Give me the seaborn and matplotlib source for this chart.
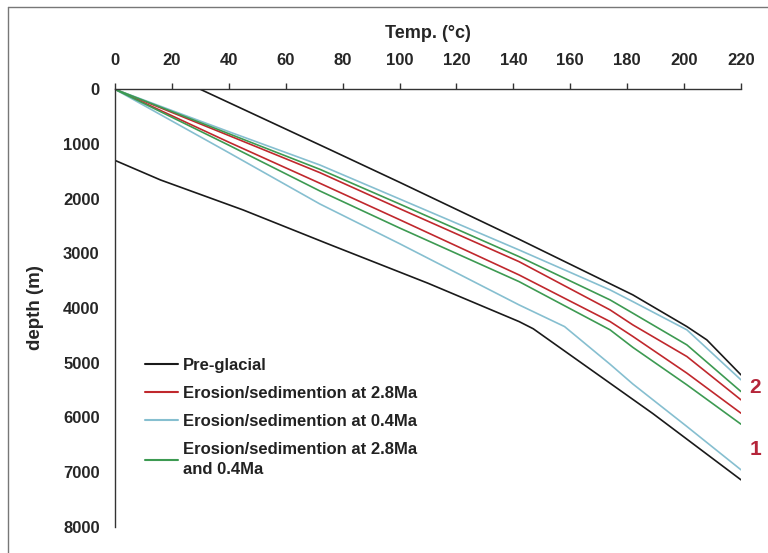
import pandas as pd
import seaborn as sns
import matplotlib.pyplot as plt
from matplotlib.lines import Line2D

# temperatures (°C) used for the model curves
temps = [0, 40, 72, 100, 142, 158, 174, 182, 201, 220]

# case 2 (upper bundle)
red_2 = [0, 845, 1524, 2182, 3152, 3594, 4035, 4309, 4888, 5680]
blue_2 = [0, 775, 1384, 2005, 2938, 3303, 3669, 3883, 4400, 5314]
green_2 = [0, 812, 1463, 2097, 3060, 3456, 3852, 4095, 4675, 5528]

# case 1 (lower bundle)
red_1 = [0, 967, 1718, 2384, 3395, 3822, 4248, 4520, 5192, 5924]
blue_1 = [0, 1159, 2097, 2823, 3943, 4340, 5029, 5390, 6168, 6960]
green_1 = [0, 1022, 1859, 2536, 3517, 3959, 4400, 4720, 5406, 6125]

# pre-glacial geotherms
pre_2_temp = [30, 75, 100, 142, 182, 201, 208, 220]
pre_2_depth = [0, 1090, 1700, 2742, 3760, 4340, 4583, 5223]
pre_1_temp = [0, 16, 45, 75, 110, 142, 147, 189, 220]
pre_1_depth = [1300, 1658, 2206, 2830, 3547, 4248, 4380, 5930, 7143]

x_ticks = list(range(0, 221, 20))
y_ticks = list(range(0, 8001, 1000))

labels = ["Pre-glacial",
          "Erosion/sedimention at 2.8Ma",
          "Erosion/sedimention at 0.4Ma",
          "Erosion/sedimention at 2.8Ma\nand 0.4Ma"]
colors = ["#1a1a1a", "#c0282d", "#86bfd0", "#3d9a52"]

sns.set_style("white")
plt.rcParams['font.family'] = ['Liberation Sans', 'DejaVu Sans']
plt.rcParams['font.weight'] = 'bold'

fig = plt.figure(figsize=(7.68, 5.53), dpi=100)
ax = fig.add_axes([0.1497, 0.0476, 0.8151, 0.7909])

lw = 1.2
sns.lineplot(x=pre_2_temp, y=pre_2_depth, color=colors[0], lw=lw, ax=ax, sort=False)
sns.lineplot(x=pre_1_temp, y=pre_1_depth, color=colors[0], lw=lw, ax=ax, sort=False)
for d, c in [(red_2, colors[1]), (red_1, colors[1]),
             (blue_2, colors[2]), (blue_1, colors[2]),
             (green_2, colors[3]), (green_1, colors[3])]:
    sns.lineplot(x=temps, y=d, color=c, lw=lw, ax=ax, sort=False)

ax.set_xlim(0, 220)
ax.set_ylim(8000, 0)
ax.set_xticks(x_ticks)
ax.set_yticks(y_ticks)
ax.xaxis.tick_top()
ax.xaxis.set_label_position('top')
for s in ['right', 'bottom']:
    ax.spines[s].set_visible(False)
for s in ['left', 'top']:
    ax.spines[s].set_color('#333333')
    ax.spines[s].set_linewidth(1.0)
ax.tick_params(axis='x', direction='out', length=4, width=1, color='#333333',
               pad=11, labelsize=12)
ax.tick_params(axis='y', direction='out', length=4, width=1, color='#333333',
               pad=7, labelsize=12)
for t in ax.get_xticklabels() + ax.get_yticklabels():
    t.set_fontweight('bold')
ax.set_xlabel("Temp. (°c)", fontsize=13, fontweight='bold', labelpad=11)
ax.set_ylabel("depth (m)", fontsize=13.5, fontweight='bold', labelpad=14)

handles = [Line2D([], [], color=c, lw=1.5) for c in colors]
leg = ax.legend(handles, labels, loc='upper left', bbox_to_anchor=(145 / 768, 1 - 358 / 553),
                bbox_transform=fig.transFigure, frameon=False, fontsize=12,
                handlelength=2.0, handletextpad=0.3, labelspacing=0.78,
                borderpad=0, borderaxespad=0)
for t in leg.get_texts():
    t.set_fontweight('bold')
    t.set_color('#222222')
    t.set_linespacing(1.4)

ax.text(223, 5460, "2", color='#b5253a', fontsize=15, fontweight='bold',
        ha='left', va='center', clip_on=False)
ax.text(223, 6594, "1", color='#b5253a', fontsize=15, fontweight='bold',
        ha='left', va='center', clip_on=False)

# thin frame of the cropped figure (top and left edges)
fig.add_artist(Line2D([8 / 768, 1], [1 - 7 / 553, 1 - 7 / 553], color='#777777', lw=1,
                      transform=fig.transFigure))
fig.add_artist(Line2D([8 / 768, 8 / 768], [0, 1 - 7 / 553], color='#777777', lw=1,
                      transform=fig.transFigure))

fig.savefig("out.png", dpi=100)
